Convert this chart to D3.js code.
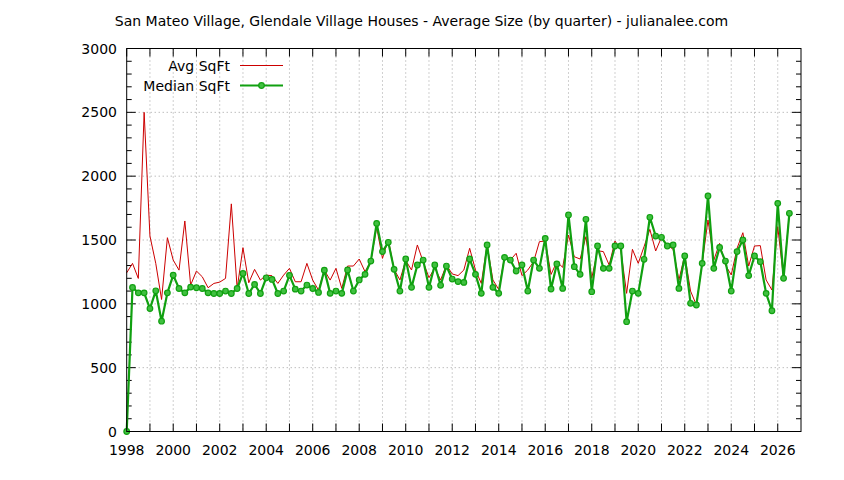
<!DOCTYPE html>
<html>
<head>
<meta charset="utf-8">
<script src="https://cdn.jsdelivr.net/npm/d3@7"></script>
<style>
  html, body { margin: 0; padding: 0; background: #fff; }
  svg text { font-family: "DejaVu Sans", sans-serif; fill: #000; }
</style>
</head>
<body>
<svg id="chart" width="844" height="480"></svg>
<script>
// Quarterly values, first quarter of 1998 onward
const startYear = 1998;
const avgSqft = [
  1243, 1317, 1199, 2500, 1531, 1317, 1034, 1518, 1343, 1264,
  1649, 1147, 1257, 1212, 1126, 1160, 1170, 1199, 1783, 1120,
  1440, 1165, 1270, 1186, 1225, 1220, 1160, 1225, 1278, 1173,
  1173, 1317, 1186, 1107, 1264, 1186, 1278, 1121, 1296, 1296,
  1351, 1252, 1335, 1600, 1356, 1505, 1270, 1187, 1340, 1265,
  1461, 1330, 1205, 1280, 1187, 1304, 1234, 1221, 1265, 1435,
  1265, 1160, 1461, 1187, 1113, 1364, 1343, 1396, 1221, 1265,
  1330, 1487, 1492, 1230, 1330, 1286, 1539, 1369, 1351, 1526,
  1200, 1416, 1409, 1304, 1492, 1422, 1082, 1427, 1317, 1448,
  1583, 1414, 1521, 1460, 1427, 1187, 1382, 1100, 991, 1317,
  1657, 1343, 1474, 1304, 1226, 1435, 1557, 1296, 1453, 1456,
  1187, 1108, 1605, 1200, 1709
];
const medianSqft = [
  0, 1128, 1086, 1086, 963, 1102, 864, 1086, 1225, 1120,
  1086, 1131, 1126, 1120, 1086, 1081, 1081, 1100, 1081, 1120,
  1238, 1081, 1152, 1081, 1204, 1191, 1081, 1100, 1223, 1115,
  1100, 1147, 1120, 1089, 1264, 1082, 1100, 1082, 1265, 1100,
  1187, 1231, 1335, 1630, 1409, 1482, 1270, 1100, 1351, 1129,
  1304, 1343, 1129, 1304, 1145, 1296, 1194, 1174, 1168, 1351,
  1231, 1082, 1461, 1129, 1082, 1364, 1343, 1257, 1304, 1100,
  1343, 1278, 1513, 1116, 1312, 1121, 1696, 1291, 1231, 1662,
  1095, 1453, 1278, 1278, 1453, 1453, 860, 1100, 1082, 1349,
  1678, 1531, 1521, 1453, 1461, 1121, 1375, 1004, 991, 1317,
  1845, 1278, 1442, 1335, 1100, 1409, 1500, 1221, 1375, 1330,
  1082, 946, 1787, 1200, 1709
];
const seriesNames = ["Avg SqFt", "Median SqFt"];
const xTickYears = d3.range(1998, 2027, 1);
const xLabelYears = d3.range(1998, 2027, 2);
const yTicks = d3.range(0, 3001, 500);
const yMinorTicks = d3.range(0, 3001, 100);
const title = "San Mateo Village, Glendale Village Houses - Average Size (by quarter) - julianalee.com";

const svg = d3.select("#chart");
const L = 126.7, R = 801, T = 48.5, B = 431.5;
const x = d3.scaleLinear().domain([1998, 2027]).range([L, R]);
const y = d3.scaleLinear().domain([0, 3000]).range([B, T]);
const red = "#cc0000", green = "#10a010", grid = "#a0a0a0";
const fs = 14;

const pts = (arr) => arr.map((v, i) => ({ t: startYear + i / 4, v }));

// title
svg.append("text")
  .attr("x", 421.5).attr("y", 26)
  .attr("text-anchor", "middle")
  .attr("font-size", fs)
  .text(title);

// grid
const g = svg.append("g");
g.selectAll(".gx").data(xTickYears.filter(d => d > 1998)).join("line")
  .attr("x1", d => x(d)).attr("x2", d => x(d))
  .attr("y1", T).attr("y2", B)
  .attr("stroke", grid).attr("stroke-width", 1).attr("stroke-dasharray", "1 3");
g.selectAll(".gy").data(yTicks.filter(d => d > 0 && d < 3000)).join("line")
  .attr("x1", L).attr("x2", R)
  .attr("y1", d => y(d)).attr("y2", d => y(d))
  .attr("stroke", grid).attr("stroke-width", 1).attr("stroke-dasharray", "1 3");

// ticks (inward, on all four sides)
const ticks = svg.append("g").attr("stroke", "#000").attr("stroke-width", 1);
xTickYears.forEach(d => {
  ticks.append("line").attr("x1", x(d)).attr("x2", x(d)).attr("y1", B).attr("y2", B - 8);
  ticks.append("line").attr("x1", x(d)).attr("x2", x(d)).attr("y1", T).attr("y2", T + 8);
});
yMinorTicks.forEach(d => {
  const len = d % 500 === 0 ? 9 : 5;
  ticks.append("line").attr("x1", L).attr("x2", L + len).attr("y1", y(d)).attr("y2", y(d));
  ticks.append("line").attr("x1", R).attr("x2", R - len).attr("y1", y(d)).attr("y2", y(d));
});

// tick labels
svg.selectAll(".xl").data(xLabelYears).join("text")
  .attr("x", d => x(d)).attr("y", 455)
  .attr("text-anchor", "middle").attr("font-size", fs)
  .text(d => d);
svg.selectAll(".yl").data(yTicks).join("text")
  .attr("x", 117).attr("y", d => y(d) + 5)
  .attr("text-anchor", "end").attr("font-size", fs)
  .text(d => d);

// series
const line = d3.line().x(d => x(d.t)).y(d => y(d.v));
svg.append("path").datum(pts(avgSqft))
  .attr("d", line).attr("fill", "none")
  .attr("stroke", red).attr("stroke-width", 1);
svg.append("path").datum(pts(medianSqft))
  .attr("d", line).attr("fill", "none")
  .attr("stroke", green).attr("stroke-width", 2.2).attr("stroke-linejoin", "round");
svg.append("g").selectAll("circle").data(pts(medianSqft)).join("circle")
  .attr("cx", d => x(d.t)).attr("cy", d => y(d.v)).attr("r", 2.8)
  .attr("fill", "#40c040").attr("stroke", green).attr("stroke-width", 1.2);

// frame
svg.append("rect")
  .attr("x", L).attr("y", T).attr("width", R - L).attr("height", B - T)
  .attr("fill", "none").attr("stroke", "#000").attr("stroke-width", 1);

// legend
const leg = svg.append("g");
leg.append("text").attr("x", 230).attr("y", 70.5).attr("text-anchor", "end")
  .attr("font-size", fs).text(seriesNames[0]);
leg.append("line").attr("x1", 240).attr("x2", 283).attr("y1", 65.5).attr("y2", 65.5)
  .attr("stroke", red).attr("stroke-width", 1);
leg.append("text").attr("x", 230).attr("y", 90.5).attr("text-anchor", "end")
  .attr("font-size", fs).text(seriesNames[1]);
leg.append("line").attr("x1", 240).attr("x2", 283).attr("y1", 85.5).attr("y2", 85.5)
  .attr("stroke", green).attr("stroke-width", 2.2);
leg.append("circle").attr("cx", 261.5).attr("cy", 85.5).attr("r", 2.8)
  .attr("fill", "#40c040").attr("stroke", green).attr("stroke-width", 1.2);
</script>
</body>
</html>
